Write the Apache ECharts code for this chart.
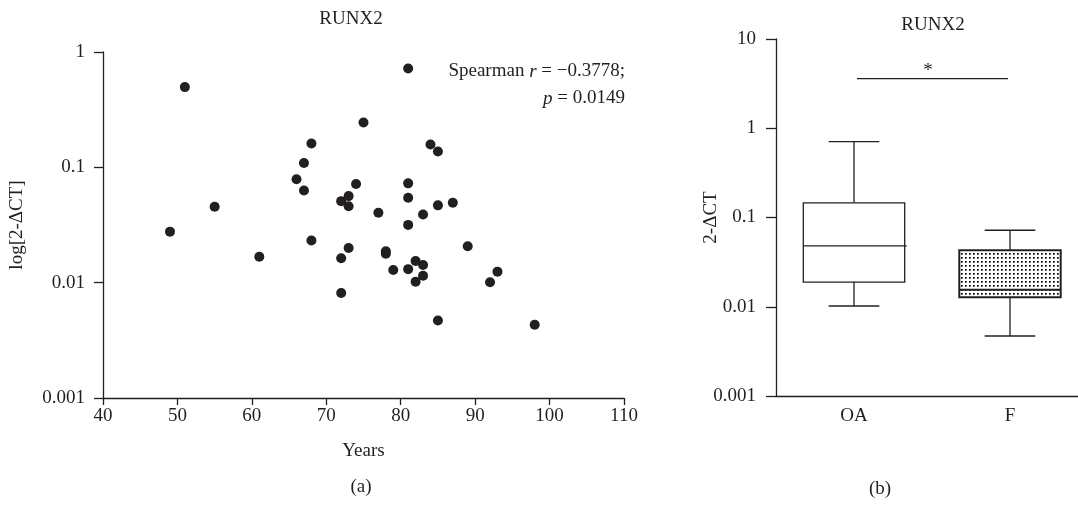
<!DOCTYPE html>
<html>
<head>
<meta charset="utf-8">
<script src="https://cdn.jsdelivr.net/npm/echarts@6/dist/echarts.min.js"></script>
<style>
html,body{margin:0;padding:0;background:#fff;}
#c{width:1078px;height:505px;}
</style>
</head>
<body>
<div id="c"></div>
<script>
// ---- Data ----
var ages = [51,49,55,61,66,67,67,68,68,72,73,73,74,75,81,84,85,81,81,77,83,85,87,81,73,72,78,78,79,81,82,83,83,82,89,93,92,72,85,98];
var expr = [0.496,0.0277,0.0455,0.0168,0.0787,0.109,0.063,0.161,0.0232,0.0509,0.0563,0.046,0.0716,0.245,0.72,0.158,0.137,0.0726,0.0545,0.0404,0.039,0.0468,0.0493,0.0317,0.020,0.0163,0.0187,0.0178,0.0129,0.0131,0.0154,0.01425,0.0115,0.0102,0.0207,0.01246,0.01007,0.00813,0.0047,0.00431];
var groups = ['OA','F'];
// [min, Q1, median, Q3, max]
var boxOA = [0.0102,0.0189,0.048,0.146,0.707];
var boxF  = [0.0047,0.0128,0.0155,0.043,0.072];
var sigLevel = 3.6;
var scatterYTicks = ['0.001','0.01','0.1','1'];
var boxYTicks = ['0.001','0.01','0.1','1','10'];

var FONT = '"Liberation Serif", "DejaVu Serif", serif';
var FS = 19;
var INK = '#231f20';

var scatterData = ages.map(function(a,i){return [a, expr[i]];});
var boxData = [boxOA, boxF];

// dotted pattern
var pc = document.createElement('canvas');
pc.width = 4; pc.height = 4;
var pctx = pc.getContext('2d');
pctx.fillStyle = '#fff'; pctx.fillRect(0,0,4,4);
pctx.fillStyle = '#000'; pctx.fillRect(1,1,1.7,1.7);
var dotPattern = {image: pc, repeat: 'repeat'};

function logFmt(list){
  return function(v){
    var e = Math.round(Math.log10(v));
    var idx = e + 3;
    return list[idx] !== undefined ? list[idx] : String(v);
  };
}

var chart = echarts.init(document.getElementById('c'), null, {renderer:'canvas'});
var axisLine = {show:true, lineStyle:{color:INK, width:1.3}};
var tickStyle = {lineStyle:{color:INK, width:1.3}};
var labelStyle = {color:INK, fontFamily:FONT, fontSize:FS};
var titleStyle = {fontFamily:FONT, fontWeight:'normal', fontSize:FS, color:INK};

chart.setOption({
  animation:false,
  backgroundColor:'#fff',
  textStyle:{fontFamily:FONT},
  title:[
    {text:'RUNX2', left:346, top:5, textAlign:'center', textStyle:titleStyle},
    {text:'RUNX2', left:928, top:11, textAlign:'center', textStyle:titleStyle},
    {text:'(a)', left:356, top:473, textAlign:'center', textStyle:titleStyle},
    {text:'(b)', left:875, top:475, textAlign:'center', textStyle:titleStyle}
  ],
  grid:[
    {left:103, top:52, width:521, height:346, outerBoundsMode:'none', containLabel:false},
    {left:776, top:39, height:357, width:312, outerBoundsMode:'none', containLabel:false}
  ],
  xAxis:[
    {gridIndex:0, type:'value', min:40, max:110, interval:10,
     name:'Years', nameLocation:'middle', nameGap:44, nameMoveOverlap:false,
     nameTextStyle:{color:INK, fontFamily:FONT, fontSize:FS},
     axisLine:axisLine, axisTick:{show:true, length:7, lineStyle:tickStyle.lineStyle},
     axisLabel:Object.assign({margin:9}, labelStyle), splitLine:{show:false}},
    {gridIndex:1, type:'category', data:groups,
     axisLine:axisLine, axisTick:{show:false},
     axisLabel:Object.assign({margin:11}, labelStyle), splitLine:{show:false}}
  ],
  yAxis:[
    {gridIndex:0, type:'log', logBase:10, min:0.001, max:1,
     name:'log[2-ΔCT]', nameLocation:'middle', nameGap:76, nameRotate:90, nameMoveOverlap:false,
     nameTextStyle:{color:INK, fontFamily:FONT, fontSize:FS},
     axisLine:axisLine, axisTick:{show:true, length:9, lineStyle:tickStyle.lineStyle},
     minorTick:{show:false},
     axisLabel:Object.assign({margin:18, formatter:logFmt(scatterYTicks)}, labelStyle), splitLine:{show:false}},
    {gridIndex:1, type:'log', logBase:10, min:0.001, max:10,
     name:'2-ΔCT', nameLocation:'middle', nameGap:55, nameRotate:90, nameMoveOverlap:false,
     nameTextStyle:{color:INK, fontFamily:FONT, fontSize:FS},
     axisLine:axisLine, axisTick:{show:true, length:10, lineStyle:tickStyle.lineStyle},
     axisLabel:Object.assign({margin:20, formatter:logFmt(boxYTicks)}, labelStyle), splitLine:{show:false}}
  ],
  series:[
    {type:'scatter', xAxisIndex:0, yAxisIndex:0, data:scatterData, symbol:'circle', symbolSize:10,
     itemStyle:{color:INK, opacity:1}},
    {type:'custom', xAxisIndex:1, yAxisIndex:1, data:boxData.map(function(d,i){return [i].concat(d);}),
     encode:{x:0, y:[1,2,3,4,5]},
     renderItem:function(params, api){
       var i = api.value(0);
       var vmin = api.value(1), q1 = api.value(2), med = api.value(3), q3 = api.value(4), vmax = api.value(5);
       var band = api.size([1, 1])[0];
       var bw = band * 0.65, cw = bw * 0.5;
       var pMin = api.coord([i, vmin]), pQ1 = api.coord([i, q1]), pMed = api.coord([i, med]),
           pQ3 = api.coord([i, q3]), pMax = api.coord([i, vmax]);
       var cx = pMin[0];
       var isF = i === 1;
       var lw = isF ? 2 : 1.3;
       var ls = {stroke:INK, lineWidth:1.3};
       return {type:'group', children:[
         {type:'line', shape:{x1:cx, y1:pQ3[1], x2:cx, y2:pMax[1]}, style:ls},
         {type:'line', shape:{x1:cx-cw/2, y1:pMax[1], x2:cx+cw/2, y2:pMax[1]}, style:ls},
         {type:'line', shape:{x1:cx, y1:pQ1[1], x2:cx, y2:pMin[1]}, style:ls},
         {type:'line', shape:{x1:cx-cw/2, y1:pMin[1], x2:cx+cw/2, y2:pMin[1]}, style:ls},
         {type:'rect', shape:{x:cx-bw/2, y:pQ3[1], width:bw, height:pQ1[1]-pQ3[1]},
          style:{fill: isF ? dotPattern : '#fff', stroke:INK, lineWidth:lw}},
         {type:'line', shape:{x1:cx-bw/2, y1:pMed[1], x2:cx+bw/2+(isF?0:2), y2:pMed[1]}, style:{stroke:INK, lineWidth:lw}}
       ]};
     }},
    {type:'custom', xAxisIndex:1, yAxisIndex:1, data:[[0,1,sigLevel]],
     encode:{x:[0,1], y:2},
     renderItem:function(params, api){
       var a = api.coord([api.value(0), api.value(2)]);
       var b = api.coord([api.value(1), api.value(2)]);
       return {type:'group', children:[
         {type:'line', shape:{x1:a[0]+3, y1:a[1], x2:b[0]-2, y2:b[1]}, style:{stroke:INK, lineWidth:1.3}},
         {type:'text', style:{x:(a[0]+b[0])/2 - 4, y:a[1]+2, text:'*', textAlign:'center', textVerticalAlign:'bottom',
           font:FS + 'px ' + FONT, fill:INK}}
       ]};
     }}
  ],
  graphic:[
    {type:'text', x:625, y:58,
     style:{text:'{n|Spearman }{i|r}{n| = −0.3778;}\n{i|p}{n| = 0.0149}', align:'right', verticalAlign:'top',
       lineHeight:27, fill:INK,
       rich:{n:{fontFamily:FONT, fontSize:FS, color:INK, lineHeight:27}, i:{fontFamily:FONT, fontSize:FS, fontStyle:'italic', color:INK, lineHeight:27}}}}
  ]
});
</script>
</body>
</html>
